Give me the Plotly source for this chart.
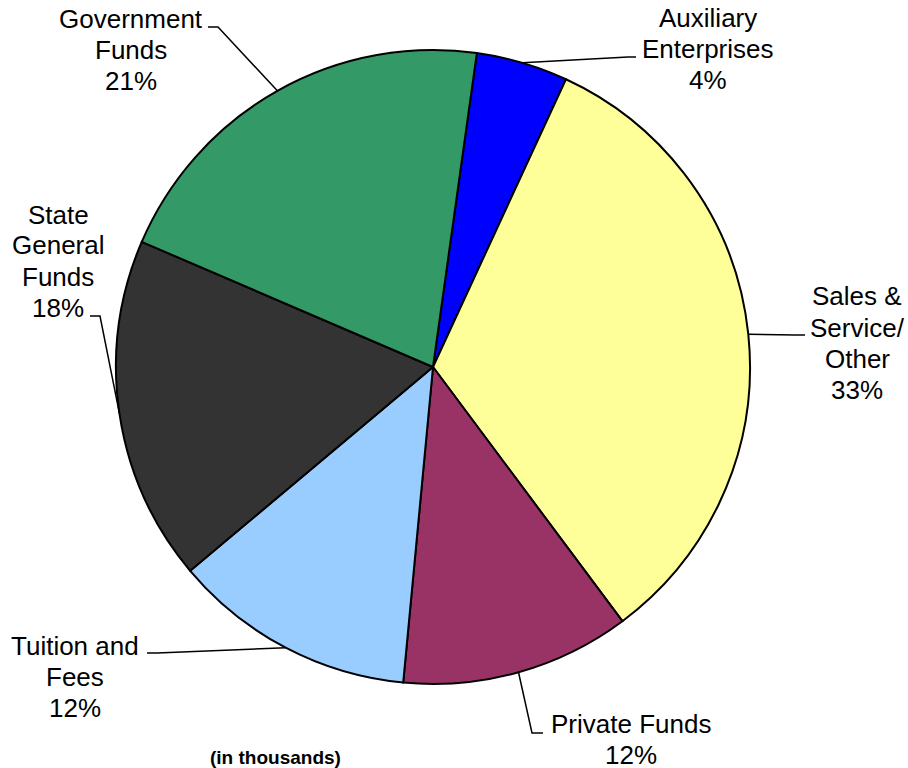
import math
import plotly.graph_objects as go

# ---- data ----
categories = ["Auxiliary Enterprises", "Sales & Service/ Other", "Private Funds",
              "Tuition and Fees", "State General Funds", "Government Funds"]
values = [4.68, 32.92, 11.69, 12.39, 17.57, 20.75]
pct_labels = ["4%", "33%", "12%", "12%", "18%", "21%"]
label_lines = [
    ["Auxiliary", "Enterprises", pct_labels[0]],
    ["Sales &", "Service/", "Other", pct_labels[1]],
    ["Private Funds", pct_labels[2]],
    ["Tuition and", "Fees", pct_labels[3]],
    ["State", "General", "Funds", pct_labels[4]],
    ["Government", "Funds", pct_labels[5]],
]
colors = ["#0000FF", "#FFFF99", "#993366", "#99CCFF", "#333333", "#339966"]

# ---- layout parameters (screen pixels of the 908x768 view) ----
W, H = 908, 768
CX, CY, R = 433, 367, 317
ROT = 7.95
FONT = "Liberation Sans, Arial, sans-serif"
LINE_GAP = 31
label_centers = [(708, 49), (857, 343), (631, 739), (75, 677), (58, 261), (131, 50)]
leader_knees = [
    [(628, 57), (636, 57)],
    [(795, 335), (805, 335)],
    [(532, 733), (543, 733)],
    [(157, 653), (147, 653)],
    [(100, 316), (90, 316)],
    [(218, 27), (208, 27)],
]


def px(x):
    return x / W


def py(y):
    return 1 - y / H


fig = go.Figure(go.Pie(
    labels=categories,
    values=values,
    sort=False,
    direction="clockwise",
    rotation=ROT,
    marker=dict(colors=colors, line=dict(color="black", width=2)),
    textinfo="none",
    hoverinfo="label+percent",
    domain=dict(x=[px(CX - R), px(CX + R)], y=[py(CY + R), py(CY - R)]),
    showlegend=False,
))

# leader lines computed from slice mid-angles
total = sum(values)
cum = 0.0
shapes = []
annotations = []
for i, v in enumerate(values):
    mid = ROT + (cum + v / 2) / total * 360
    cum += v
    t = math.radians(mid)
    ex, ey = CX + R * math.sin(t), CY - R * math.cos(t)
    pts = [(ex, ey)] + leader_knees[i]
    path = "M " + " L ".join(f"{px(a):.5f},{py(b):.5f}" for a, b in pts)
    shapes.append(dict(type="path", path=path, xref="paper", yref="paper",
                       line=dict(color="black", width=1.5)))
    lines = label_lines[i]
    lx, ly = label_centers[i]
    n = len(lines)
    for j, txt in enumerate(lines):
        yy = ly + (j - (n - 1) / 2) * LINE_GAP
        annotations.append(dict(text=txt, x=px(lx), y=py(yy), xref="paper", yref="paper",
                                showarrow=False, xanchor="center", yanchor="middle",
                                font=dict(family=FONT, size=26, color="black")))

annotations.append(dict(text="<b>(in thousands)</b>", x=px(275), y=py(757), xref="paper",
                        yref="paper", showarrow=False, xanchor="center", yanchor="middle",
                        font=dict(family=FONT, size=19, color="black")))

fig.update_layout(
    width=W, height=H,
    margin=dict(l=0, r=0, t=0, b=0),
    paper_bgcolor="white", plot_bgcolor="white",
    shapes=shapes, annotations=annotations,
)

fig.write_html(
    "out.html",
    config={"displayModeBar": False},
    post_script="document.body.style.margin='0';document.body.style.overflow='hidden';",
)
